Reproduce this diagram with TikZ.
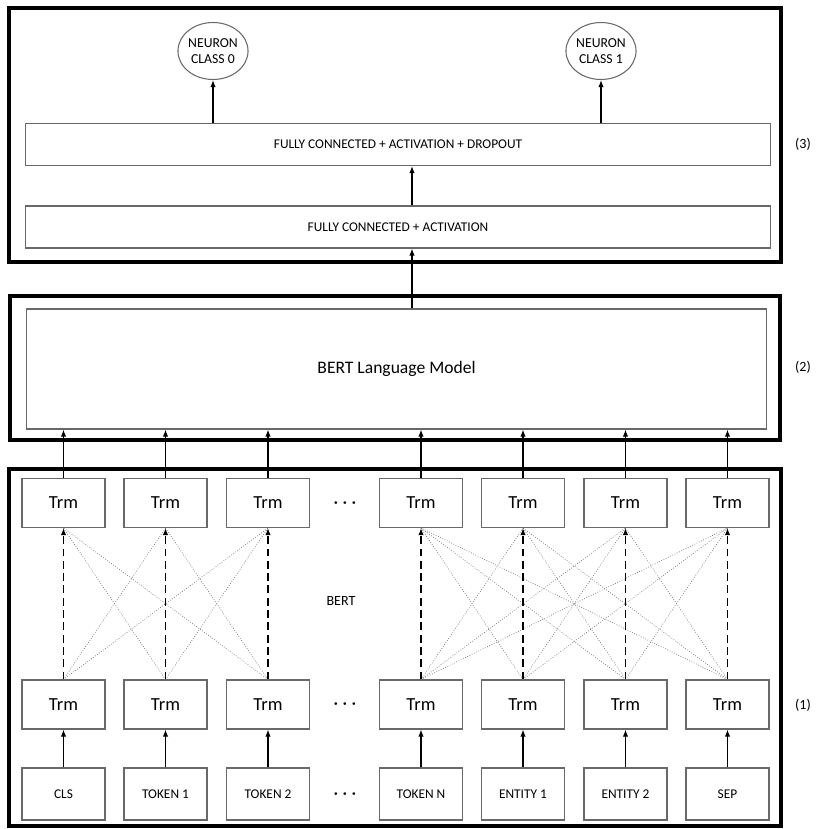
\documentclass[tikz,border=0pt]{standalone}
\usepackage{fontspec}
\setmainfont{Carlito}
\usetikzlibrary{positioning, arrows.meta, shapes.geometric}
\definecolor{BoxGray}{RGB}{105,105,105}
\definecolor{LineGray}{RGB}{110,110,110}

\begin{document}
\begin{tikzpicture}[x=0.02cm, y=-0.02cm,
          frame/.style={draw=black, line width=2.2pt},
          wide/.style={rectangle, draw=BoxGray, line width=0.6pt, minimum width=14.92cm,
                       minimum height=0.84cm, inner sep=0pt, font=\fontsize{7.6}{9}\selectfont},
          trm/.style={rectangle, draw=BoxGray, line width=0.6pt, minimum width=1.66cm,
                      minimum height=0.98cm, inner sep=0pt, font=\fontsize{10.5}{12}\selectfont},
          tok/.style={trm, minimum height=1.04cm, font=\fontsize{7.6}{9}\selectfont},
          neuron/.style={ellipse, draw=BoxGray, line width=0.6pt, minimum width=1.24cm,
                         minimum height=1.14cm, inner sep=0pt, align=center,
                         font=\fontsize{7.8}{9.5}\selectfont},
          arr/.style={-{Latex[length=4pt, width=3pt]}, draw=black, line width=0.6pt},
          self/.style={arr, dash pattern=on 4.5pt off 2.5pt},
          mix/.style={draw=LineGray, line width=0.4pt, densely dotted},
          lbl/.style={font=\fontsize{8}{10}\selectfont},
          etc/.style={font=\boldmath}
        ]
        \useasboundingbox (0,0) rectangle (816,829);

        % three stages
        \draw[frame] (9,8)    rectangle (781,262);
        \draw[frame] (10,296) rectangle (780,440);
        \draw[frame] (9,469)  rectangle (781,826);

        % (3) classifier head
        \node[neuron] (n0)  at (213, 51)    {NEURON\\CLASS 0};
        \node[neuron] (n1)  at (601, 51)    {NEURON\\CLASS 1};
        \node[wide]   (fcd) at (398, 144.5) {FULLY CONNECTED + ACTIVATION + DROPOUT};
        \node[wide]   (fca) at (398, 227)   {FULLY CONNECTED + ACTIVATION};

        % (2) language model
        \node[wide, minimum width=14.82cm, minimum height=2.4cm,
              font=\fontsize{10}{12}\selectfont] (lm) at (396.5, 369) {BERT Language Model};

        % (1) transformer layers
        \node[trm] (t1) at (63.5, 503)  {Trm};
        \node[trm] (t2) at (165.5, 503) {Trm};
        \node[trm] (t3) at (268, 503)   {Trm};
        \node[trm] (t4) at (421, 503)   {Trm};
        \node[trm] (t5) at (523, 503)   {Trm};
        \node[trm] (t6) at (625.5, 503) {Trm};
        \node[trm] (t7) at (727.5, 503) {Trm};

        \node[trm] (b1) at (63.5, 704.5)  {Trm};
        \node[trm] (b2) at (165.5, 704.5) {Trm};
        \node[trm] (b3) at (268, 704.5)   {Trm};
        \node[trm] (b4) at (421, 704.5)   {Trm};
        \node[trm] (b5) at (523, 704.5)   {Trm};
        \node[trm] (b6) at (625.5, 704.5) {Trm};
        \node[trm] (b7) at (727.5, 704.5) {Trm};

        \node[tok] (in1) at (63.5, 794)  {CLS};
        \node[tok] (in2) at (165.5, 794) {TOKEN 1};
        \node[tok] (in3) at (268, 794)   {TOKEN 2};
        \node[tok] (in4) at (421, 794)   {TOKEN N};
        \node[tok] (in5) at (523, 794)   {ENTITY 1};
        \node[tok] (in6) at (625.5, 794) {ENTITY 2};
        \node[tok] (in7) at (727.5, 794) {SEP};

        \node[etc] (dots1) at (345, 503) {$\cdots$};
        \node[etc] (dots2) at (345, 704) {$\cdots$};
        \node[etc] (dots3) at (345, 794) {$\cdots$};
        \node[lbl] (bert) at (341, 601) {BERT};

        \node[lbl] (s3) at (803, 144) {(3)};
        \node[lbl] (s2) at (803, 367) {(2)};
        \node[lbl] (s1) at (803, 705) {(1)};

        % connections between layers
        \foreach \i in {1,2,3}
          \foreach \j in {1,2,3}
            {\ifnum\i=\j\else \draw[mix] (b\i.north) -- (t\j.south);\fi}
        \foreach \i in {4,...,7}
          \foreach \j in {4,...,7}
            {\ifnum\i=\j\else \draw[mix] (b\i.north) -- (t\j.south);\fi}

        \foreach \k in {1,...,7} {
          \draw[arr]  (in\k) -- (b\k);
          \draw[self] (b\k)  -- (t\k);
          \draw[arr]  (t\k)  -- (t\k |- lm.south);
        }

        \draw[arr] ([xshift=0.28cm]fca.south |- lm.north) -- ([xshift=0.28cm]fca.south);
        \draw[arr] ([xshift=0.28cm]fca.north) -- ([xshift=0.28cm]fcd.south);
        \draw[arr] (n0 |- fcd.north) -- (n0);
        \draw[arr] (n1 |- fcd.north) -- (n1);
      \end{tikzpicture}
\end{document}
